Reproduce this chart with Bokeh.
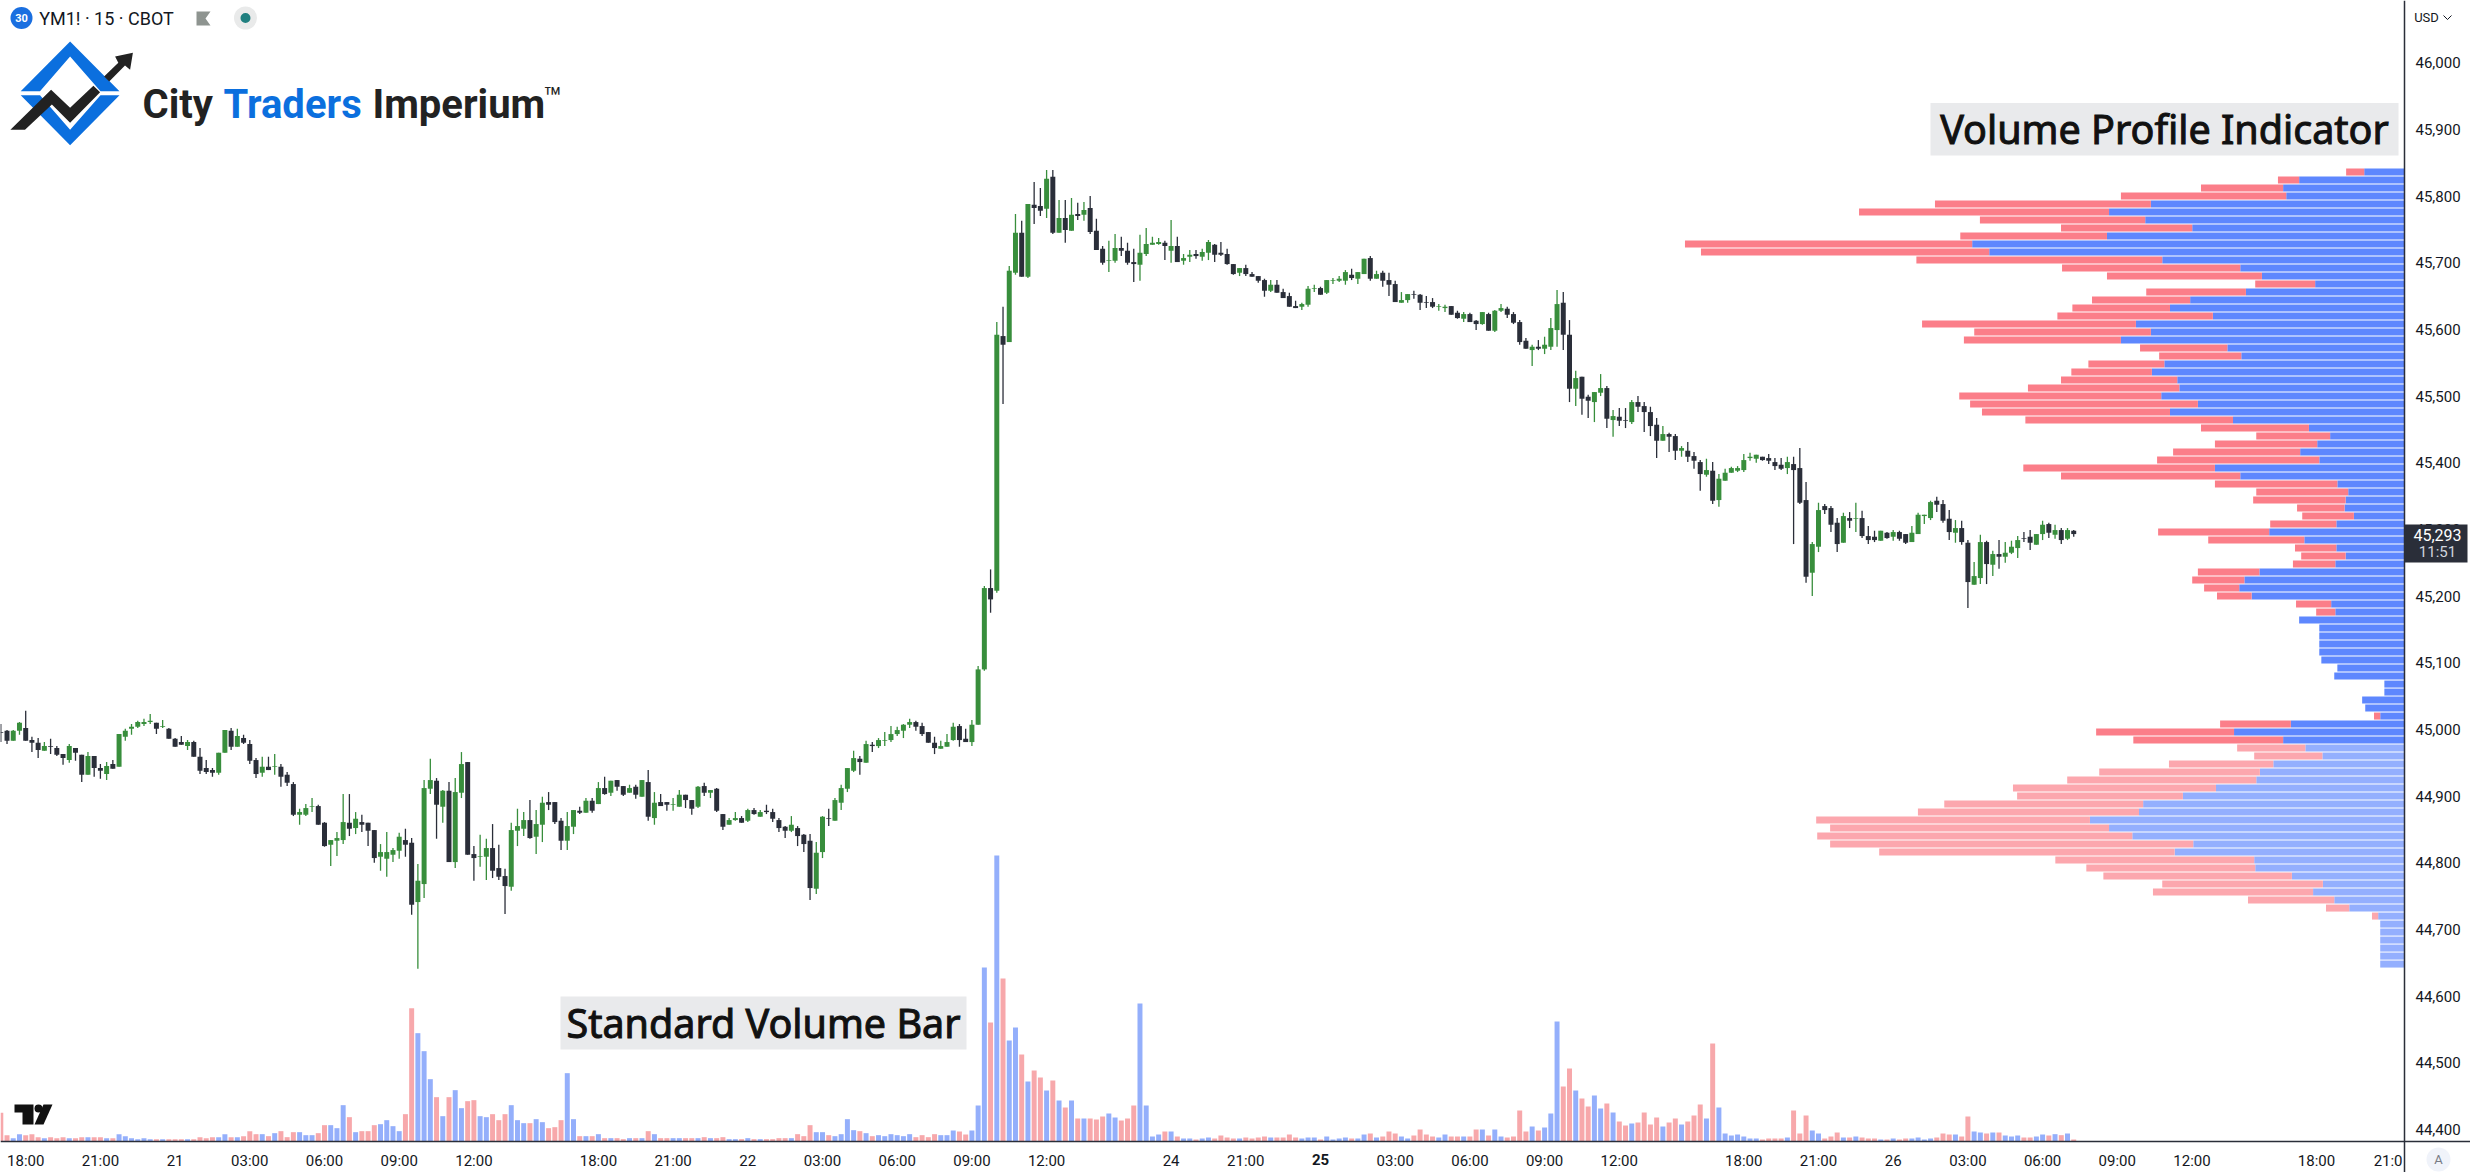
from bokeh.plotting import figure
from bokeh.embed import file_html
from bokeh.resources import INLINE
from bokeh.models import ColumnDataSource, Range1d, FixedTicker, NumeralTickFormatter
from bokeh.core.properties import value

direction = "".join([
 "ddggdddgdd","dgddgddgdg","gggggdgddd","gddddggdgd","ddgdgdddgg","gddgggdgdd","dggggddggg","dgdggddggd","ddgggdggdd","dggdgdgdgd",
 "dgdgdgddgg","ddgdgddggd","gdgddddgdd","dggdggggdg","dggggggddd","dgggddgggd","gdggdgddgd","gdgdgdddgg","dddggggdgd","ggdggddddg",
 "ddddgddddg","ggdggggdgg","dgdddggddd","dggddgddgd","ggddddgdgg","gddgddggdg","ddgddddgdd","gdddgdgggg","gggddddgdd","dggdddgdgd",
 "ddgdgddggg","gdddgddggd","gdgggddggd","gdgd"])

high = [
45008,44999,44999,45011,45028,44989,44987,44981,44986,44975,
44963,44978,44972,44962,44966,44960,44948,44951,44954,44993,
45001,45008,45013,45016,45023,45010,45014,45002,44987,44990,
44984,44983,44972,44954,44942,44965,44999,45002,45001,44992,
44984,44957,44959,44959,44963,44948,44936,44921,44881,44888,
44897,44887,44861,44834,44846,44903,44903,44876,44872,44860,
44849,44828,44846,44822,44845,44851,44837,44798,44924,44956,
44927,44909,44921,44927,44966,44951,44825,44842,44836,44858,
44827,44791,44860,44881,44876,44894,44879,44899,44906,44891,
44867,44876,44879,44884,44897,44897,44921,44929,44923,44924,
44915,44917,44917,44924,44939,44906,44903,44891,44897,44909,
44902,44894,44915,44920,44909,44912,44873,44867,44876,44870,
44881,44882,44879,44887,44881,44867,44855,44870,44855,44843,
44843,44831,44870,44881,44897,44917,44942,44968,44960,44983,
44981,44987,44996,45005,45004,45008,45016,45013,45010,44996,
44989,44983,44993,45010,45008,45001,45014,45095,45215,45240,
45611,45634,45695,45773,45763,45788,45821,45812,45839,45839,
45794,45794,45797,45790,45791,45800,45766,45725,45733,45743,
45739,45730,45721,45742,45752,45739,45737,45733,45764,45739,
45713,45719,45719,45721,45734,45728,45731,45721,45698,45692,
45697,45686,45680,45676,45674,45674,45661,45655,45643,45640,
45665,45667,45664,45674,45677,45680,45689,45691,45686,45706,
45710,45688,45688,45685,45673,45656,45653,45658,45653,45650,
45647,45638,45637,45635,45628,45626,45625,45614,45626,45625,
45629,45638,45634,45626,45614,45587,45577,45584,45589,45617,
45659,45656,45614,45538,45529,45502,45506,45533,45515,45479,
45482,45482,45494,45500,45491,45484,45467,45455,45445,45443,
45425,45431,45416,45404,45406,45401,45383,45391,45394,45395,
45413,45415,45412,45409,45413,45407,45407,45409,45409,45422,
45371,45281,45340,45338,45335,45317,45325,45326,45340,45328,
45305,45298,45298,45296,45299,45298,45293,45305,45325,45322,
45343,45349,45344,45329,45314,45313,45284,45251,45292,45283,
45268,45284,45281,45283,45290,45296,45299,45293,45313,45310,
45307,45302,45302,45299]

body_top = [
44996,44998,44998,45010,45002,44984,44980,44975,44975,44972,
44963,44975,44972,44962,44960,44960,44942,44945,44948,44993,
44998,45004,45011,45011,45013,45010,45005,45001,44986,44981,
44981,44981,44959,44942,44939,44965,44999,44998,44990,44987,
44978,44954,44944,44944,44945,44944,44932,44918,44876,44882,
44885,44885,44860,44834,44837,44861,44860,44866,44861,44860,
44849,44816,44816,44819,44839,44834,44830,44773,44912,44924,
44923,44908,44908,44906,44948,44951,44813,44810,44822,44822,
44792,44780,44849,44855,44864,44864,44858,44890,44891,44891,
44863,44855,44879,44878,44893,44893,44912,44912,44923,44924,
44915,44912,44914,44924,44921,44890,44891,44891,44888,44902,
44902,44894,44914,44915,44909,44911,44873,44864,44867,44867,
44879,44879,44876,44878,44876,44864,44854,44857,44852,44842,
44833,44815,44869,44867,44894,44912,44942,44957,44956,44978,
44977,44984,44984,44993,44999,45007,45011,45011,45005,44996,
44980,44975,44981,45004,45005,44986,45007,45090,45212,45212,
45592,45590,45688,45745,45745,45788,45787,45785,45826,45829,
45767,45767,45772,45773,45779,45782,45748,45721,45704,45722,
45722,45718,45701,45715,45728,45730,45731,45730,45725,45725,
45707,45712,45713,45716,45731,45727,45715,45713,45698,45692,
45692,45683,45680,45674,45667,45667,45656,45650,45635,45638,
45661,45662,45662,45674,45674,45676,45686,45682,45686,45706,
45707,45683,45685,45674,45668,45644,45653,45653,45652,45641,
45641,45635,45634,45635,45625,45623,45623,45613,45626,45623,
45628,45632,45631,45623,45611,45583,45574,45574,45577,45602,
45638,45640,45592,45527,45529,45499,45506,45512,45512,45470,
45469,45464,45491,45491,45485,45476,45457,45443,45443,45440,
45422,45418,45410,45401,45389,45388,45376,45385,45392,45392,
45404,45409,45412,45409,45407,45401,45397,45401,45398,45392,
45344,45278,45329,45335,45332,45310,45320,45317,45317,45317,
45290,45289,45298,45295,45296,45296,45293,45295,45322,45322,
45341,45343,45338,45316,45302,45302,45280,45230,45281,45281,
45263,45263,45265,45274,45284,45287,45289,45293,45307,45308,
45299,45299,45299,45298]

body_bottom = [
44995,44983,44983,44998,44983,44980,44969,44968,44974,44962,
44957,44954,44965,44932,44932,44942,44938,44933,44941,44944,
44989,45001,45004,45008,45011,45001,45004,44986,44974,44977,
44975,44959,44938,44936,44935,44935,44965,44974,44974,44980,
44953,44933,44935,44939,44944,44929,44920,44872,44872,44872,
44884,44857,44825,44827,44833,44834,44851,44852,44857,44848,
44807,44809,44806,44812,44818,44827,44737,44741,44768,44911,
44887,44884,44801,44801,44905,44812,44807,44809,44809,44788,
44779,44765,44764,44848,44851,44837,44839,44857,44887,44861,
44833,44833,44854,44875,44875,44878,44888,44903,44905,44914,
44902,44905,44902,44899,44869,44867,44885,44887,44887,44884,
44894,44881,44884,44905,44905,44878,44854,44857,44864,44860,
44863,44873,44869,44876,44866,44852,44848,44848,44840,44828,
44762,44761,44816,44866,44863,44890,44911,44938,44951,44950,
44975,44975,44983,44984,44993,44998,45007,45004,44993,44980,
44972,44971,44974,44984,44984,44981,44981,45007,45090,45195,
45208,45577,45581,45685,45679,45679,45782,45778,45781,45745,
45745,45749,45748,45770,45772,45746,45719,45700,45703,45703,
45718,45700,45698,45697,45713,45727,45728,45725,45718,45701,
45703,45709,45710,45709,45715,45712,45712,45698,45683,45685,
45683,45679,45673,45658,45658,45655,45647,45634,45632,45634,
45637,45661,45652,45655,45673,45673,45673,45677,45676,45683,
45676,45676,45673,45667,45641,45640,45644,45652,45640,45640,
45634,45634,45632,45622,45617,45616,45611,45608,45608,45598,
45598,45628,45622,45610,45581,45571,45569,45571,45571,45574,
45599,45592,45511,45511,45496,45493,45491,45505,45466,45464,
45463,45463,45461,45484,45476,45455,45433,45433,45439,45418,
45418,45409,45403,45383,45382,45343,45344,45373,45385,45388,
45389,45407,45406,45404,45403,45395,45391,45392,45389,45340,
45229,45235,45274,45329,45307,45278,45280,45313,45316,45290,
45284,45284,45283,45287,45289,45286,45280,45281,45293,45320,
45317,45337,45313,45296,45295,45281,45221,45217,45227,45248,
45247,45259,45259,45265,45272,45286,45280,45277,45293,45295,
45292,45284,45286,45293]

low = [
44981,44978,44983,44992,44983,44966,44957,44968,44963,44960,
44947,44950,44953,44921,44932,44929,44926,44924,44941,44944,
44983,44992,45002,45005,45008,44993,45002,44986,44974,44977,
44969,44959,44933,44933,44929,44932,44965,44969,44974,44978,
44948,44927,44929,44939,44932,44914,44915,44870,44857,44870,
44876,44857,44824,44795,44810,44828,44840,44843,44846,44825,
44800,44788,44779,44801,44806,44809,44722,44641,44747,44903,
44836,44860,44801,44792,44897,44812,44773,44794,44774,44777,
44774,44723,44758,44825,44840,44836,44813,44831,44879,44858,
44819,44819,44843,44873,44875,44875,44888,44902,44900,44908,
44900,44905,44896,44899,44863,44857,44885,44878,44878,44884,
44882,44872,44882,44900,44897,44876,44849,44857,44863,44860,
44861,44872,44869,44873,44861,44846,44837,44846,44825,44816,
44744,44753,44807,44855,44863,44879,44906,44936,44932,44950,
44966,44972,44975,44981,44990,44987,45002,44998,44990,44980,
44963,44971,44974,44983,44974,44981,44975,45007,45088,45175,
45205,45488,45581,45682,45679,45677,45758,45770,45767,45743,
45745,45730,45748,45764,45763,45743,45719,45697,45686,45700,
45710,45697,45671,45673,45710,45727,45727,45704,45700,45701,
45697,45701,45706,45703,45704,45701,45710,45697,45682,45680,
45680,45679,45670,45649,45656,45655,45647,45634,45632,45629,
45634,45656,45652,45653,45668,45671,45667,45674,45668,45683,
45673,45676,45664,45650,45641,45640,45640,45646,45629,45632,
45632,45628,45626,45622,45616,45611,45611,45599,45607,45598,
45596,45626,45617,45608,45577,45571,45545,45569,45563,45569,
45574,45569,45491,45485,45472,45467,45461,45500,45452,45439,
45455,45452,45458,45476,45446,45440,45407,45433,45416,45404,
45409,45401,45391,45358,45379,45338,45334,45373,45385,45386,
45386,45403,45400,45403,45398,45389,45389,45383,45278,45338,
45220,45200,45266,45323,45296,45266,45280,45302,45296,45287,
45278,45281,45283,45286,45283,45283,45278,45281,45293,45308,
45314,45326,45310,45284,45280,45277,45182,45217,45218,45218,
45230,45241,45250,45263,45257,45281,45269,45277,45284,45287,
45286,45278,45284,45289]

volume = [
860,190,100,220,190,220,130,100,130,100,
130,100,100,130,130,130,130,100,100,220,
160,100,70,100,70,70,70,70,70,70,
70,70,130,100,130,130,220,130,130,160,
310,220,220,160,250,310,130,280,280,190,
190,250,490,490,400,1090,730,280,310,310,
490,520,640,460,310,820,4000,3250,2710,1870,
1330,760,1330,1540,1000,1210,1240,760,730,820,
640,820,1090,640,550,550,670,580,400,430,
640,2050,670,160,160,160,220,100,100,100,
70,100,100,100,310,220,100,100,100,100,
100,100,100,130,100,100,130,70,70,70,
100,70,70,70,70,100,100,100,220,160,
490,280,280,190,160,220,670,340,310,250,
160,190,160,220,190,160,220,130,190,130,
220,190,190,330,300,210,330,1080,5220,3570,
8580,4890,3030,3420,2610,1800,2130,1920,1530,1830,
1230,1020,1230,690,690,690,660,750,840,720,
630,690,1080,4140,1080,150,210,300,300,150,
90,90,60,90,120,90,180,120,90,90,
120,90,120,150,120,120,120,210,120,90,
120,120,60,150,60,90,120,90,90,210,
240,120,150,300,240,150,90,180,360,210,
150,120,210,150,150,150,150,360,360,180,
360,150,120,150,930,300,450,330,420,840,
3600,1650,2190,1530,1290,1050,1380,990,1140,870,
600,480,540,570,870,510,720,450,570,690,
510,600,780,1110,690,2940,1020,240,180,210,
150,90,90,60,90,90,90,120,930,240,
780,330,240,90,150,270,120,120,150,120,
90,90,60,60,90,60,90,90,120,60,
90,120,240,210,210,150,750,300,270,240,
270,270,180,150,180,120,120,150,210,180,
220,190,240,60]

profile_price = [
45836,45824,45812,45800,45788,45776,45764,45752,45740,45728,
45716,45704,45692,45680,45668,45656,45644,45632,45620,45608,
45596,45584,45572,45560,45548,45536,45524,45512,45500,45488,
45476,45464,45452,45440,45428,45416,45404,45392,45380,45368,
45356,45344,45332,45320,45308,45296,45284,45272,45260,45248,
45236,45224,45212,45200,45188,45176,45164,45152,45140,45128,
45116,45104,45092,45080,45068,45056,45044,45032,45020,45008,
44996,44984,44972,44960,44948,44936,44924,44912,44900,44888,
44876,44864,44852,44840,44828,44816,44804,44792,44780,44768,
44756,44744,44732,44720,44708,44696,44684,44672,44660,44648]

profile_up = [
780,2040,2350,2290,4910,5720,5020,4110,5760,8370,
8040,4690,3180,2760,1730,3070,4150,4540,3710,5200,
4910,5490,3430,3160,4650,4890,4400,4360,4710,4000,
4540,3320,1850,1440,1690,2020,1650,3670,3180,1300,
1090,1140,1160,980,1320,2620,1940,1320,1140,1340,
2810,3100,3200,2960,1420,1340,2040,1650,1650,1650,
1650,1610,1300,1360,390,390,820,760,470,2200,
3300,2350,1920,1590,2540,2800,2870,3650,4290,5060,
5140,6090,5720,5270,4090,4450,2910,2890,2180,1580,
1770,1360,1070,510,470,470,470,470,470,470]

profile_down = [
350,410,1590,3200,4180,4840,3200,2540,2840,5560,
5580,4760,3450,3000,1160,1930,1900,1890,3010,4140,
3420,3040,1690,1590,1470,1560,2250,2930,3910,4410,
3640,4020,2090,1430,1980,2460,3140,3710,3470,2370,
1780,1790,920,1000,1280,2150,1860,800,860,820,
1190,1010,680,670,680,370,0,0,0,0,
0,0,0,0,0,0,0,0,120,1370,
2670,2900,1320,1320,2020,3110,3660,3930,3210,3850,
4280,5300,5400,6100,7030,5720,3850,3270,3650,3110,
3100,1670,450,120,0,0,0,0,0,0]

price_ticks = [44400,44500,44600,44700,44800,44900,45000,45100,45200,45300,45400,45500,45600,45700,45800,45900,46000]
time_ticks = {4:"18:00",16:"21:00",28:"21",40:"03:00",52:"06:00",64:"09:00",76:"12:00",96:"18:00",108:"21:00",120:"22",
              132:"03:00",144:"06:00",156:"09:00",168:"12:00",188:"24",200:"21:00",212:"",224:"03:00",236:"06:00",
              248:"09:00",260:"12:00",280:"18:00",292:"21:00",304:"26",316:"03:00",328:"06:00",340:"09:00",352:"12:00",
              372:"18:00",383.5:"21:0"}

# page geometry of the reference
W, H, FW, FH = 2470, 1172, 2404, 1141
BAR = 6.225
X0 = -0.3 / BAR
X1 = (W - 0.3) / BAR
Y_TOP = 45900 + 128.9 * 1.5
Y_BOT = Y_TOP - H * 1.5
def dx(px): return X0 + px / BAR
def dy(py): return Y_TOP - py * 1.5

UP, DOWN = "#388E3C", "#2A2E39"
up_flags = [c == "g" for c in direction]
idx = list(range(len(direction)))
cs = ColumnDataSource(dict(
    i=idx, high=high, low=low,
    open=[b if u else t for u, t, b in zip(up_flags, body_top, body_bottom)],
    close=[t if u else b for u, t, b in zip(up_flags, body_top, body_bottom)],
    candle_color=[UP if u else DOWN for u in up_flags],
    volume=volume,
    vol_color=["#94AFFB" if u else "#F7A8AB" for u in up_flags]))
ps = ColumnDataSource(dict(
    price=profile_price,
    up=profile_up,
    total=[u + d for u, d in zip(profile_up, profile_down)],
    zero=[0] * len(profile_up),
    up_color=["#5E87FE" if k < 72 else "#94AFFE" for k in range(len(profile_up))],
    down_color=["#FB7E89" if k < 72 else "#FCA7AE" for k in range(len(profile_up))]))

p = figure(width=W, height=H, output_backend="svg", toolbar_location=None,
           x_range=Range1d(X0, X1), y_range=Range1d(Y_BOT, Y_TOP),
           y_axis_location="right", min_border=0,
           outline_line_color=None, background_fill_color="white", border_fill_color="white")
p.margin = 0
p.grid.visible = False
p.extra_x_ranges["profile"] = Range1d(FW * 19.36, (FW - W) * 19.36)
p.extra_y_ranges["vol"] = Range1d((FH - H) * 30, FH * 30)

xa, ya = p.xaxis[0], p.yaxis[0]
xa.fixed_location = dy(FH)
ya.fixed_location = dx(FW)
ya.ticker = FixedTicker(ticks=price_ticks)
ya.formatter = NumeralTickFormatter(format="0,0")
xa.ticker = FixedTicker(ticks=list(time_ticks))
xa.major_label_overrides = {k: v for k, v in time_ticks.items()}
for a in (xa, ya):
    a.major_tick_line_color = None
    a.minor_tick_line_color = None
    a.major_tick_out = 0
    a.major_tick_in = 0
    a.minor_tick_out = 0
    a.minor_tick_in = 0
    a.axis_line_color = "#2A2E39"
    a.axis_line_width = 1.5
    a.major_label_text_font = "Roboto"
    a.major_label_text_font_size = "15px"
    a.major_label_text_color = "#131722"
ya.major_label_standoff = 11
xa.major_label_standoff = 10

# volume
p.vbar(x="i", top="volume", bottom=0, width=0.8, source=cs, y_range_name="vol",
       fill_color="vol_color", line_color=None)
# profile
p.hbar(y="price", left="zero", right="up", height=10.5, source=ps, x_range_name="profile",
       fill_color="up_color", line_color=None)
p.hbar(y="price", left="up", right="total", height=10.5, source=ps, x_range_name="profile",
       fill_color="down_color", line_color=None)
# candles
p.segment(x0="i", x1="i", y0="low", y1="high", source=cs, line_color="candle_color", line_width=1.3)
p.vbar(x="i", top="open", bottom="close", width=0.8, source=cs, fill_color="candle_color", line_color=None)

# annotation boxes
for l, r, t, b, txt in [(1930, 2398, 102.5, 155, "Volume Profile Indicator"),
                        (560, 966, 996, 1049, "Standard Volume Bar")]:
    p.quad(left=[dx(l)], right=[dx(r)], top=[dy(t)], bottom=[dy(b)], fill_color="#E9EAEC", line_color=None)
    p.text(x=[dx((l + r) / 2)], y=[dy((t + b) / 2)], text=[txt], text_align="center", text_baseline="middle",
           text_font=value("Noto Sans"), text_font_size="39.5px", text_color="#111111",
           text_outline_color="#111111")

# logo
def poly(pts, color):
    p.patch([dx(a) for a, _ in pts], [dy(b) for _, b in pts], fill_color=color, line_color=None)
BLUE = "#0B6FDE"
poly([(20.2, 90.7), (69.6, 41), (119, 90.7), (100, 90.7), (69.6, 56), (39.5, 90.7)], BLUE)
poly([(20.2, 94.7), (69.6, 144.7), (119, 94.7), (100, 94.7), (69.6, 129.3), (39.5, 94.7)], BLUE)
poly([(9.9, 129.3), (50.6, 89.3), (69.6, 107.3), (92.9, 85.3), (99.6, 91.7), (69.6, 122.3), (51.4, 104), (24.5, 129.3)], "#222222")
poly([(103.6, 76), (117.8, 62.3), (114.6, 56), (132.4, 52.3), (129.6, 69.3), (124.5, 65), (108.7, 81)], "#222222")
for x_, t_, c_ in [(142, "City", "#222222"), (223, "Traders", BLUE), (372, "Imperium", "#222222")]:
    p.text(x=[dx(x_)], y=[dy(104)], text=[t_], text_baseline="alphabetic", text_font=value("Roboto"),
           text_font_style="bold", text_font_size="40px", text_color=c_)
p.text(x=[dx(543)], y=[dy(97)], text=["™"], text_baseline="alphabetic", text_font=value("Roboto"),
       text_font_size="30px", text_color="#222222")

# header
p.scatter(x=[dx(21)], y=[dy(17.5)], size=22, marker="circle", fill_color="#1A6FE0", line_color=None)
p.text(x=[dx(21)], y=[dy(17.5)], text=["30"], text_align="center", text_baseline="middle", text_font=value("Roboto"),
       text_font_style="bold", text_font_size="11px", text_color="white")
p.text(x=[dx(38.7)], y=[dy(18)], text=["YM1! · 15 · CBOT"], text_baseline="middle", text_font=value("Roboto"),
       text_font_size="18px", text_color="#131722")
poly([(196, 11), (210, 11), (205, 18), (210, 25), (196, 25)], "#8E9490")
p.scatter(x=[dx(245)], y=[dy(17.5)], size=23, marker="circle", fill_color="#E9EAEA", line_color=None)
p.scatter(x=[dx(245)], y=[dy(17.5)], size=10, marker="circle", fill_color="#1F7F7F", line_color=None)

# TradingView mark
poly([(14, 1104), (33, 1104), (33, 1124), (22, 1124), (22, 1112), (14, 1112)], "#111111")
poly([(52, 1104), (43, 1124), (34, 1124), (43, 1104)], "#111111")
p.scatter(x=[dx(38)], y=[dy(1108)], size=8, marker="circle", fill_color="#111111", line_color=None)

# last-price tag and other items over the axis panels
p.quad(left=[dx(FW)], right=[dx(2467)], top=[dy(524)], bottom=[dy(562)], fill_color="#2A2E39", line_color=None,
       level="overlay")
p.scatter(x=[dx(2438)], y=[dy(1159)], size=24, marker="circle", fill_color="#F0F3FA", line_color=None, level="overlay")
def lab(x, y, txt, color="#131722", size="15px", weight="normal"):
    p.text(x=[dx(x)], y=[dy(y)], text=[txt], text_color=color, text_font=value("Roboto"), text_font_size=size,
           text_font_style=weight, text_align="center", text_baseline="middle", level="overlay")
lab(2437, 534, "45,293", "white", "16px")
lab(2437, 551, "11:51", "#D1D4DC", "15px")
lab(2426, 17, "USD", "#131722", "13px")
lab(2438, 1159, "A", "#787B86", "13px")
lab(1320, 1159, "25", "#131722", "15px", "bold")
p.line([dx(2443), dx(2447), dx(2451)], [dy(15), dy(19), dy(15)], line_color="#131722", line_width=1, level="overlay")

open("out.html", "w").write(file_html(p, INLINE))
